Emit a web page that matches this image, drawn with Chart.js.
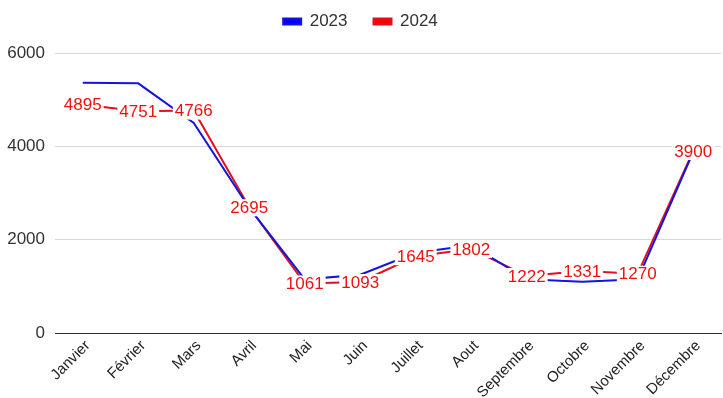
<!DOCTYPE html>
<html>
<head>
<meta charset="utf-8">
<script src="https://cdn.jsdelivr.net/npm/chart.js@4.4.1/dist/chart.umd.min.js"></script>
<style>
  html, body { margin: 0; padding: 0; background: #fff; }
  #box { width: 723px; height: 398px; }
</style>
</head>
<body>
<div id="box"><canvas id="myChart"></canvas></div>
<script>
var months = ["Janvier", "Février", "Mars", "Avril", "Mai", "Juin", "Juillet", "Aout", "Septembre", "Octobre", "Novembre", "Décembre"];
var values2023 = [5360, 5350, 4500, 2680, 1150, 1250, 1720, 1880, 1150, 1100, 1150, 3880];
var values2024 = [4895, 4751, 4766, 2695, 1061, 1093, 1645, 1802, 1222, 1331, 1270, 3900];
var yTicks = [0, 2000, 4000, 6000];

var fontFam = "'Liberation Sans', Arial, sans-serif";

// draws the red value labels of 2024 on top of the lines
var pointLabels = {
    id: "pointLabels",
    afterDatasetsDraw: function (chart) {
        var ctx = chart.ctx;
        var meta = chart.getDatasetMeta(1);
        ctx.save();
        ctx.font = "17px " + fontFam;
        ctx.textAlign = "center";
        ctx.textBaseline = "middle";
        meta.data.forEach(function (pt, i) {
            var txt = String(values2024[i]);
            var w = ctx.measureText(txt).width;
            ctx.fillStyle = "#ffffff";
            ctx.fillRect(pt.x - w / 2 - 2, pt.y - 8, w + 4, 17);
            ctx.fillStyle = "#ee1111";
            ctx.fillText(txt, pt.x, pt.y + 1);
        });
        ctx.restore();
    }
};

// more room under the legend
var legendRoom = {
    id: "legendRoom",
    beforeInit: function (chart) {
        var fit = chart.legend.fit;
        chart.legend.fit = function () {
            fit.bind(chart.legend)();
            this.height += 13;
        };
    }
};

new Chart("myChart", {
    type: "line",
    data: {
        labels: months,
        datasets: [{
            label: "2023",
            data: values2023,
            borderColor: "#1414dc",
            backgroundColor: "#0000ff",
            borderWidth: 2,
            pointRadius: 0,
            tension: 0
        }, {
            label: "2024",
            data: values2024,
            borderColor: "#e01020",
            backgroundColor: "#ff0000",
            borderWidth: 2,
            pointRadius: 0,
            tension: 0
        }]
    },
    options: {
        responsive: true,
        maintainAspectRatio: false,
        animation: false,
        layout: { padding: { left: 0, right: 2, top: -13, bottom: 0 } },
        plugins: {
            legend: {
                display: true,
                position: "top",
                labels: {
                    boxWidth: 18,
                    boxHeight: 6,
                    padding: 26,
                    color: "#333",
                    font: { family: fontFam, size: 17 }
                }
            },
            tooltip: { enabled: false }
        },
        scales: {
            x: {
                offset: true,
                afterFit: function (scale) { scale.height = 65; },
                grid: { display: false, drawTicks: false },
                border: { display: true, color: "#333", width: 1 },
                ticks: {
                    color: "#222",
                    maxRotation: 45,
                    minRotation: 45,
                    padding: 4,
                    labelOffset: 5,
                    font: { family: fontFam, size: 15 }
                }
            },
            y: {
                min: 0,
                max: 6000,
                afterFit: function (scale) { scale.width = 55; },
                afterBuildTicks: function (scale) {
                    scale.ticks = yTicks.map(function (v) { return { value: v }; });
                },
                grid: {
                    drawTicks: false,
                    color: function (c) { return c.tick && c.tick.value === 0 ? "#333" : "#d9d9d9"; },
                    lineWidth: 1
                },
                border: { display: false },
                ticks: {
                    color: "#333",
                    padding: 10,
                    font: { family: fontFam, size: 17 },
                    callback: function (v) { return String(v); }
                }
            }
        }
    },
    plugins: [pointLabels, legendRoom]
});
</script>
</body>
</html>
